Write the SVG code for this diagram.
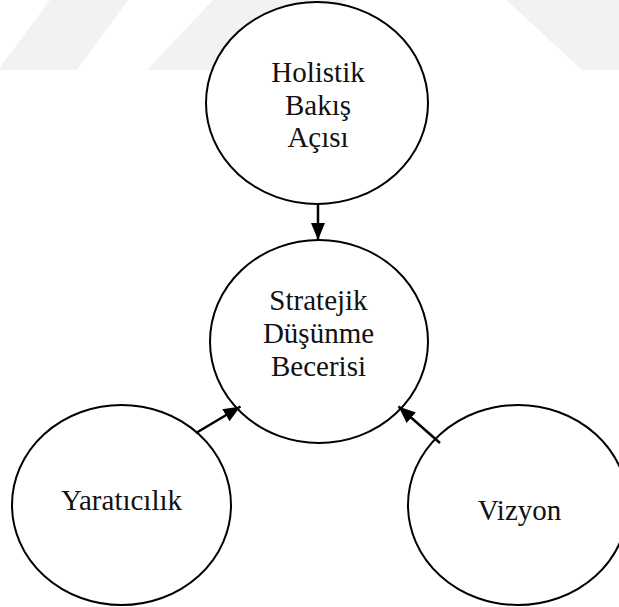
<svg xmlns="http://www.w3.org/2000/svg" width="619" height="607" viewBox="0 0 619 607">
  <style>
    .node ellipse { fill: #ffffff; stroke: #000000; stroke-width: 2; }
    .node text { font-family: "Liberation Serif", "Times New Roman", serif; font-size: 29px; fill: #111111; text-anchor: middle; }
    .edge { stroke: #000000; stroke-width: 2.5; fill: none; marker-end: url(#arrow); }
    .wm { fill: #f2f2f2; }
  </style>
  <defs>
    <marker id="arrow" markerUnits="userSpaceOnUse" markerWidth="18" markerHeight="14" refX="17" refY="7" orient="auto">
      <path d="M0,0 L17,7 L0,14 Z" fill="#000000"/>
    </marker>
  </defs>

  <!-- faint background bands -->
  <g id="background">
    <polygon class="wm" points="50,0 128,0 77,70 -2,70"/>
    <polygon class="wm" points="213,0 346,0 280,70 147,70"/>
    <polygon class="wm" points="506,0 640,0 716,70 582,70"/>
  </g>

  <g id="node-holistik" class="node">
    <ellipse cx="317" cy="103" rx="111" ry="101"/>
    <text x="318" y="82">Holistik</text>
    <text x="318" y="114.5">Bakış</text>
    <text x="318" y="147">Açısı</text>
  </g>

  <g id="node-stratejik" class="node">
    <ellipse cx="319" cy="341.5" rx="109" ry="101.5"/>
    <text x="318.5" y="310">Stratejik</text>
    <text x="318.5" y="343">Düşünme</text>
    <text x="318.5" y="376">Becerisi</text>
  </g>

  <g id="node-yaraticilik" class="node">
    <ellipse cx="121.5" cy="505" rx="109.5" ry="100"/>
    <text x="121.5" y="510">Yaratıcılık</text>
  </g>

  <g id="node-vizyon" class="node">
    <ellipse cx="518" cy="505" rx="110" ry="100"/>
    <text x="519.5" y="520">Vizyon</text>
  </g>

  <g id="connectors">
    <line class="edge" x1="318" y1="204" x2="318" y2="240"/>
    <line class="edge" x1="196" y1="433" x2="240.5" y2="406.5"/>
    <line class="edge" x1="440" y1="443" x2="398.5" y2="406.5"/>
  </g>
</svg>
